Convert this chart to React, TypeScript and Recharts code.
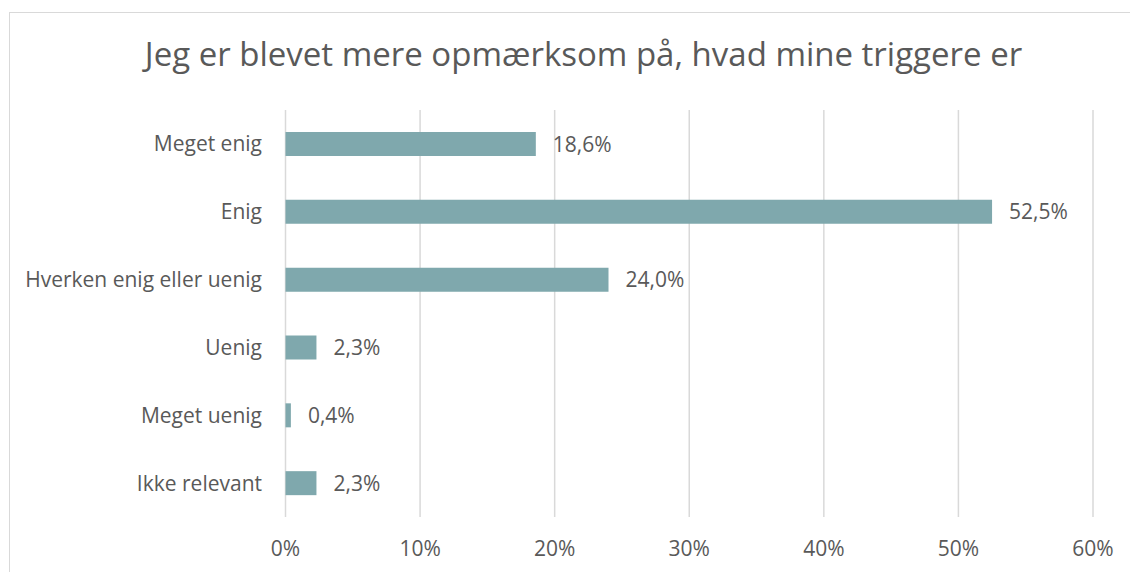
import React from 'react';
import { BarChart, Bar, XAxis, YAxis, CartesianGrid, LabelList } from 'recharts';

const categories = ['Meget enig', 'Enig', 'Hverken enig eller uenig', 'Uenig', 'Meget uenig', 'Ikke relevant'];
const values = [18.6, 52.5, 24.0, 2.3, 0.4, 2.3];
const xTicks = [0, 10, 20, 30, 40, 50, 60];
const title = 'Jeg er blevet mere opmærksom på, hvad mine triggere er';

const data = categories.map((c, i) => ({ name: c, value: values[i] }));

const FONT = '"Open Sans", sans-serif';
const TEXT = '#595959';

const XTick = (props: any) => {
  const { x, payload } = props;
  return (
    <text x={x} y={556} textAnchor="middle" fill={TEXT} fontFamily={FONT} fontSize={21}>
      {payload.value}%
    </text>
  );
};

const YTick = (props: any) => {
  const { x, y, payload } = props;
  return (
    <text x={x - 23.5} y={y + 7.5} textAnchor="end" fill={TEXT} fontFamily={FONT} fontSize={21}>
      {payload.value}
    </text>
  );
};

const ValueLabel = (props: any) => {
  const { x, y, width, height, value } = props;
  return (
    <text x={x + width + 17} y={y + height / 2 + 7.5} textAnchor="start" fill={TEXT} fontFamily={FONT} fontSize={21}>
      {Number(value).toFixed(1).replace('.', ',')}%
    </text>
  );
};

export default function App() {
  return (
    <div style={{ position: 'absolute', left: 0, top: 0, width: 1130, height: 572, background: '#fff' }}>
      <div style={{ position: 'absolute', left: 9, top: 12, width: 1140, height: 600, border: '1.5px solid #d9d9d9', boxSizing: 'border-box' }} />
      <div style={{ position: 'absolute', left: 0, top: 0 }}>
        <BarChart
          width={1130}
          height={572}
          data={data}
          layout="vertical"
          margin={{ top: 110, right: 37, bottom: 25, left: 0 }}
        >
          <text x={583.5} y={66} textAnchor="middle" fill={TEXT} fontFamily={FONT} fontSize={33}>
            {title}
          </text>
          <CartesianGrid horizontal={false} stroke="#d9d9d9" strokeWidth={1.5} />
          <XAxis
            type="number"
            domain={[0, 60]}
            ticks={xTicks}
            axisLine={false}
            tickLine={false}
            height={30}
            tick={<XTick />}
            interval={0}
          />
          <YAxis
            type="category"
            dataKey="name"
            width={285.5}
            axisLine={false}
            tickLine={false}
            tickSize={0}
            tickMargin={0}
            tick={<YTick />}
            interval={0}
          />
          <Bar dataKey="value" fill="#7FA8AD" barSize={24} isAnimationActive={false}>
            <LabelList dataKey="value" content={<ValueLabel />} />
          </Bar>
        </BarChart>
      </div>
    </div>
  );
}
